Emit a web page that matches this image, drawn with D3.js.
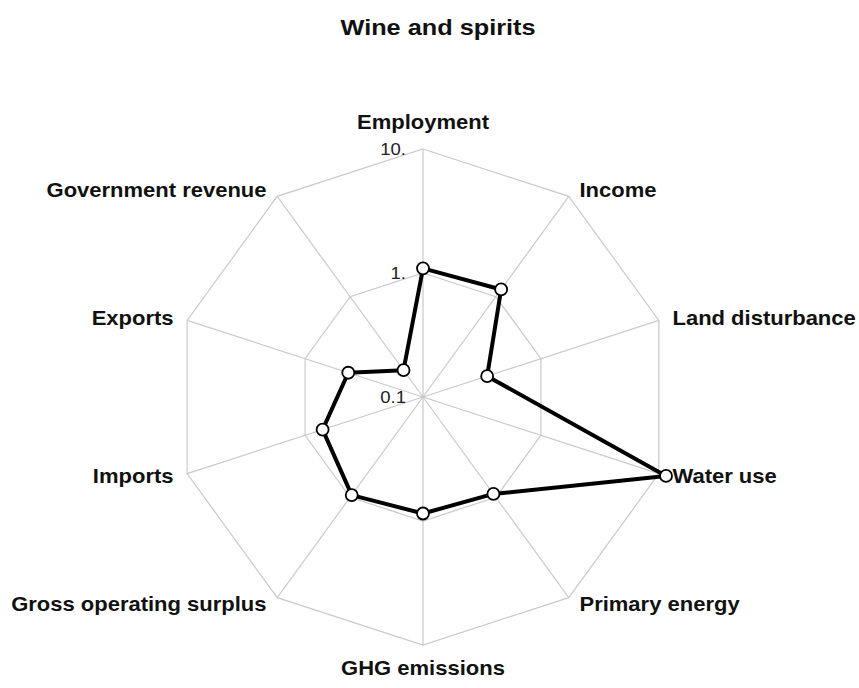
<!DOCTYPE html>
<html><head><meta charset="utf-8">
<script src="https://cdn.jsdelivr.net/npm/d3@7"></script>
<style>body{margin:0;background:#fff}</style>
</head><body>
<svg id="chart" width="859" height="688"></svg>
<script>
const title = "Wine and spirits";
const categories = ["Employment","Income","Land disturbance","Water use","Primary energy","GHG emissions","Gross operating surplus","Imports","Exports","Government revenue"];
const values = [1.09, 1.18, 0.35, 11.5, 0.925, 0.87, 0.95, 0.71, 0.43, 0.185];
const ringValues = [1, 10];
const ringLabels = ["10.", "1.", "0.1"];
const ringLabelValues = [10, 1, 0.1];

const svg = d3.select("#chart");
const cx = 423, cy = 397, R = 248;
const font = "'Liberation Sans', Arial, sans-serif";
const r = d3.scaleLog().domain([0.1, 10]).range([0, R]);
const ang = d3.scalePoint().domain(categories).range([0, 2*Math.PI*(categories.length-1)/categories.length]);
const pt = (c, rad) => [cx + rad*Math.sin(ang(c)), cy - rad*Math.cos(ang(c))];

const g = svg.append("g");
g.selectAll("line.spoke").data(categories).join("line")
  .attr("x1", cx).attr("y1", cy)
  .attr("x2", d => pt(d, R)[0]).attr("y2", d => pt(d, R)[1])
  .attr("stroke", "#cacaca").attr("stroke-width", 1.2);
g.selectAll("polygon.ring").data(ringValues).join("polygon")
  .attr("points", v => categories.map(c => pt(c, r(v)).join(",")).join(" "))
  .attr("fill", "none").attr("stroke", "#cacaca").attr("stroke-width", 1.2);
g.selectAll("text.rl").data(ringLabelValues).join("text")
  .attr("transform", v => `translate(${cx-17},${cy - r(v) + 6}) scale(1.09,1)`)
  .attr("text-anchor", "end").attr("font-family", font).attr("font-size", 17)
  .attr("fill", "#222").text((v,i) => ringLabels[i]);

const pts = categories.map((c,i) => pt(c, r(values[i])));
g.append("path").attr("d", d3.line().curve(d3.curveLinearClosed)(pts))
  .attr("fill", "none").attr("stroke", "#000").attr("stroke-width", 4).attr("stroke-linejoin", "round");
g.selectAll("circle").data(pts).join("circle")
  .attr("cx", d => d[0]).attr("cy", d => d[1]).attr("r", 6)
  .attr("fill", "#fff").attr("stroke", "#000").attr("stroke-width", 1.8);

g.selectAll("text.lab").data(categories).join("text")
  .each(function(c) {
    const a = ang(c), s = Math.sin(a), co = Math.cos(a);
    const p = pt(c, R + 8);
    let anchor, x = p[0], y = p[1];
    if (Math.abs(s) < 0.1) { anchor = "middle"; y = co > 0 ? y - 12 : y + 22; }
    else if (s > 0) { anchor = "start"; x += 6; y += 7; }
    else { anchor = "end"; x -= 6; y += 7; }
    d3.select(this).attr("transform", `translate(${x},${y}) scale(1.1,1)`).attr("text-anchor", anchor);
  })
  .attr("font-family", font).attr("font-size", 20).attr("font-weight", "bold")
  .attr("fill", "#111").text(d => d);

svg.append("text").attr("transform", `translate(438,35) scale(1.15,1)`)
  .attr("text-anchor", "middle").attr("font-family", font).attr("font-size", 22)
  .attr("font-weight", "bold").attr("fill", "#111").text(title);
</script>
</body></html>
